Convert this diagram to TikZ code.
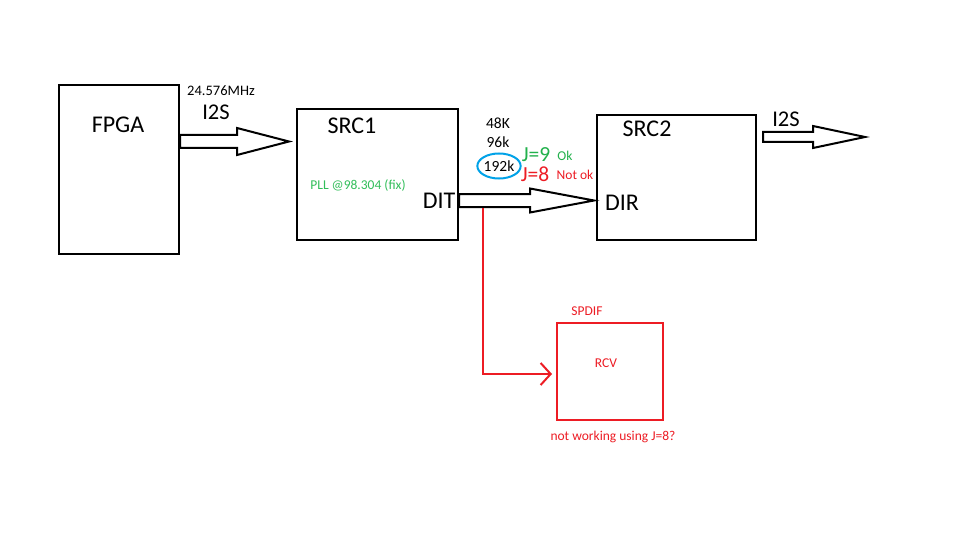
\documentclass[tikz,border=0pt]{standalone}
\usepackage{fontspec}
\setmainfont{Carlito}
\usetikzlibrary{shapes.geometric,arrows.meta,calc}
\definecolor{pred}{RGB}{237,28,36}
\definecolor{pgreen}{RGB}{34,177,76}
\definecolor{plgreen}{RGB}{50,190,90}
\definecolor{pblue}{RGB}{0,162,232}
\newcommand\blkarrow[6]{%
  \draw[blk] (#1,#4-#5) -- (#3,#4-#5) -- (#3,#4-#6) -- (#2,#4) -- (#3,#4+#6) -- (#3,#4+#5) -- (#1,#4+#5) -- cycle;}
\begin{document}
\begin{tikzpicture}[x=1pt,y=-1pt,
  box/.style={draw, line width=2pt, inner sep=0pt, outer sep=0pt},
  blk/.style={draw, line width=2pt, line join=miter, fill=white},
  txt/.style={inner sep=0pt, outer sep=0pt},
  big/.style={txt, font=\fontsize{24}{26}\selectfont},
  mid/.style={txt, font=\fontsize{15.5}{17}\selectfont},
  sml/.style={txt, font=\fontsize{13.5}{15}\selectfont},
  ]
\useasboundingbox (0,0) rectangle (960,540);
\fill[white] (0,0) rectangle (960,540);

% boxes
\node[box, minimum width=120pt, minimum height=169pt] (fpga) at (119,169.5) {};
\node[box, minimum width=161pt, minimum height=131pt] (src1) at (377.5,174.5) {};
\node[box, minimum width=159pt, minimum height=125pt] (src2) at (676.5,177.5) {};
\node[box, draw=pred, minimum width=106pt, minimum height=97pt] (rcv) at (610,371.5) {};

% block arrows
\blkarrow{180}{289}{237}{141.5}{6.5}{13.5}
\blkarrow{459}{594}{530}{200.5}{6.5}{12}
\blkarrow{763}{865}{813}{137}{5}{11}

% red connector
\coordinate (split) at (483,208);
\draw[pred, line width=2pt, -{Straight Barb[length=10pt,width=22pt,line width=2pt]}]
  (split) |- ($(rcv.west)+(-5,2.5)$);

% labels
\node[big] (tfpga) at (118,125) {FPGA};
\node[sml, font=\fontsize{14.5}{16}\selectfont] (tmhz) at (221,91) {24.576MHz};
\node[big, font=\fontsize{22.5}{24}\selectfont] (ti2s1) at (216,112) {I2S};
\node[big] (tsrc1) at (352,126) {SRC1};
\node[sml, text=plgreen] (tpll) at (358,185) {PLL @98.304 (fix)};
\node[big] (tdit) at (439,201) {DIT};
\node[mid] (t48) at (498,123) {48K};
\node[mid] (t96) at (498,142) {96k};
\node[mid, ellipse, draw=pblue, line width=2pt, minimum width=38pt, minimum height=25pt, inner sep=0pt] (t192) at (499,166) {192k};
\node[big, font=\fontsize{21.5}{23}\selectfont, text=pgreen] (tj9) at (536,155) {J=9};
\node[sml, text=pgreen] (tok) at (565,156) {Ok};
\node[big, font=\fontsize{21.5}{23}\selectfont, text=pred] (tj8) at (535,174) {J=8};
\node[sml, text=pred] (tnok) at (575,175) {Not ok};
\node[big] (tsrc2) at (647,129) {SRC2};
\node[big] (tdir) at (622,203) {DIR};
\node[big, font=\fontsize{22.5}{24}\selectfont] (ti2s2) at (786,119) {I2S};
\node[sml, text=pred] (tspdif) at (587,311) {SPDIF};
\node[sml, text=pred] (trcv) at (606,363) {RCV};
\node[sml, text=pred] (tnw) at (613,437) {not working using J=8?};
\end{tikzpicture}
\end{document}
